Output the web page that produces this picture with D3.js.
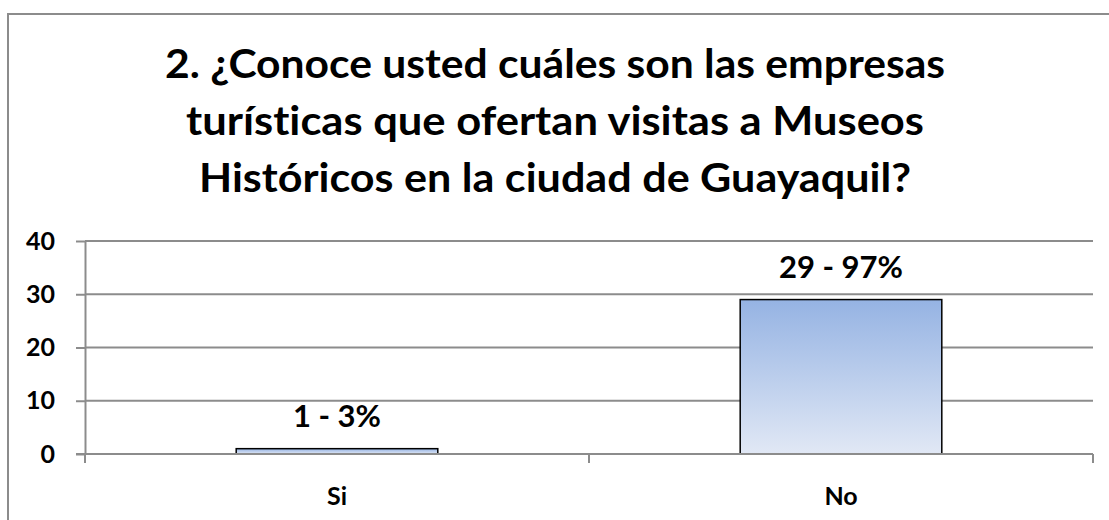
<!DOCTYPE html>
<html>
<head>
<meta charset="utf-8">
<script src="https://cdn.jsdelivr.net/npm/d3@7"></script>
<style>
  body { margin: 0; background: #fff; }
  svg text { font-family: Lato, "Open Sans", sans-serif; font-weight: bold; fill: #000; font-variant-ligatures: none; }
  .grid line { stroke: #8c8c8c; stroke-width: 2; }
  .axis path, .axis line { stroke: #8c8c8c; stroke-width: 2; }
</style>
</head>
<body>
<svg width="1109" height="520"></svg>
<script>
// chart data
var categories = ["Si", "No"];
var counts = [1, 29];
var labels = ["1 - 3%", "29 - 97%"];
var yTicks = [0, 10, 20, 30, 40];
var titleLines = [
  "2. ¿Conoce usted cuáles son las empresas",
  "turísticas que ofertan visitas a Museos",
  "Históricos en la ciudad de Guayaquil?"
];

var svg = d3.select("svg");

// outer chart border
svg.append("rect")
    .attr("x", 8).attr("y", 14)
    .attr("width", 1120).attr("height", 530)
    .attr("fill", "none")
    .attr("stroke", "#8c8c8c")
    .attr("stroke-width", 2);

var defs = svg.append("defs");
var grad = defs.append("linearGradient")
    .attr("id", "barFill")
    .attr("x1", 0).attr("y1", 0).attr("x2", 0).attr("y2", 1);
grad.append("stop").attr("offset", "0%").attr("stop-color", "#95b3e3");
grad.append("stop").attr("offset", "100%").attr("stop-color", "#e1e8f5");

// title
var titleWidths = [780, 738, 712];
svg.append("g").selectAll("text")
    .data(titleLines)
    .enter().append("text")
    .attr("x", 555)
    .attr("y", function(d, i) { return 78 + i * 57; })
    .attr("text-anchor", "middle")
    .attr("font-size", 41)
    .attr("textLength", function(d, i) { return titleWidths[i]; })
    .attr("lengthAdjust", "spacingAndGlyphs")
    .text(function(d) { return d; });

var plotLeft = 85, plotRight = 1093, plotTop = 241, plotBottom = 454;

var x = d3.scaleBand()
    .domain(categories)
    .range([plotLeft, plotRight])
    .paddingInner(0.6)
    .paddingOuter(0.3);

var y = d3.scaleLinear()
    .domain([0, 40])
    .range([plotBottom, plotTop]);

// horizontal gridlines
svg.append("g")
    .attr("class", "grid")
    .selectAll("line")
    .data(yTicks.filter(function(d) { return d > 0; }))
    .enter().append("line")
    .attr("x1", plotLeft).attr("x2", plotRight)
    .attr("y1", function(d) { return y(d); })
    .attr("y2", function(d) { return y(d); });

// bars
var data = categories.map(function(c, i) { return { cat: c, value: counts[i], label: labels[i] }; });

svg.append("g").selectAll("rect")
    .data(data)
    .enter().append("rect")
    .attr("x", function(d) { return x(d.cat); })
    .attr("y", function(d) { return y(d.value); })
    .attr("width", x.bandwidth())
    .attr("height", function(d) { return y(0) - y(d.value); })
    .attr("fill", "url(#barFill)")
    .attr("stroke", "#000")
    .attr("stroke-width", 1.5);

// value labels
svg.append("g").selectAll("text")
    .data(data)
    .enter().append("text")
    .attr("x", function(d) { return x(d.cat) + x.bandwidth() / 2; })
    .attr("y", function(d) { return y(d.value) - 22; })
    .attr("text-anchor", "middle")
    .attr("font-size", 31)
    .text(function(d) { return d.label; });

// y axis
var yAxis = svg.append("g")
    .attr("class", "axis")
    .attr("transform", "translate(" + plotLeft + ",0)")
    .call(d3.axisLeft(y).tickValues(yTicks).tickSize(9).tickSizeOuter(0).tickPadding(21));
yAxis.selectAll("text").attr("font-size", 25).attr("fill", "#000");

// x axis with ticks between categories
var xAxis = svg.append("g")
    .attr("class", "axis")
    .attr("transform", "translate(0," + plotBottom + ")");
xAxis.append("line")
    .attr("x1", plotLeft - 9).attr("x2", plotRight)
    .attr("y1", 0).attr("y2", 0);
var bounds = [plotLeft, (plotLeft + plotRight) / 2, plotRight];
xAxis.selectAll(".sep")
    .data(bounds)
    .enter().append("line")
    .attr("class", "sep")
    .attr("x1", function(d) { return d; }).attr("x2", function(d) { return d; })
    .attr("y1", 0).attr("y2", 9);
xAxis.selectAll(".cat")
    .data(categories)
    .enter().append("text")
    .attr("class", "cat")
    .attr("x", function(d) { return x(d) + x.bandwidth() / 2; })
    .attr("y", 51)
    .attr("text-anchor", "middle")
    .attr("font-size", 25)
    .text(function(d) { return d; });
</script>
</body>
</html>
